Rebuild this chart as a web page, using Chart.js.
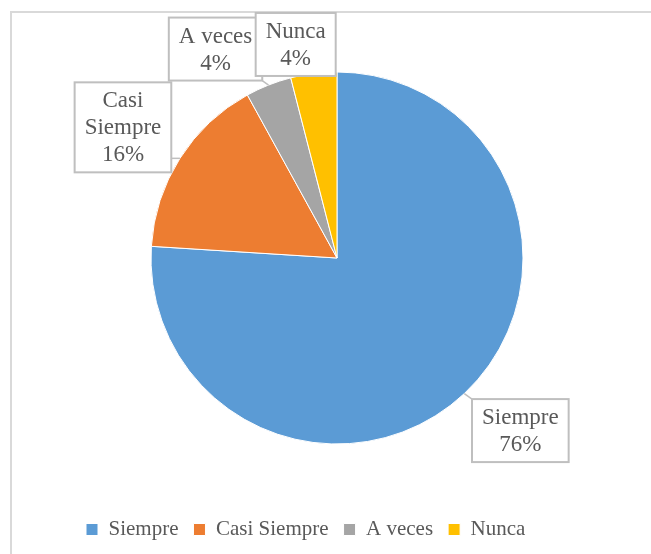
<!DOCTYPE html>
<html>
<head>
<meta charset="utf-8">
<script src="https://cdn.jsdelivr.net/npm/chart.js@4/dist/chart.umd.min.js"></script>
<style>
    html, body { margin: 0; padding: 0; background: #ffffff; }
    #chart-box { position: relative; width: 651px; height: 554px; }
</style>
</head>
<body>
<div id="chart-box">
    <canvas id="frequency-pie"></canvas>
</div>
<script>
// Chart data
const categories = ["Siempre", "Casi Siempre", "A veces", "Nunca"];
const percentages = [76, 16, 4, 4];

// Colours (Office palette)
const sliceColors = ["#5B9BD5", "#ED7D31", "#A5A5A5", "#FFC000"];
const textColor = "#595959";

// Where each data label box sits, relative to the slice edge point
const labelOffsets = [[56, 37], [-57, -31], [-53, -36], [-18, -29]];
const labelWrap = [false, true, false, false];

// Light grey frame around the whole chart
const frameBorder = {
    id: "frameBorder",
    beforeDraw(chart) {
        const ctx = chart.ctx;
        ctx.save();
        ctx.strokeStyle = "#D9D9D9";
        ctx.lineWidth = 2;
        ctx.strokeRect(11, 12, chart.width + 20, chart.height + 20);
        ctx.restore();
    }
};

// Boxed data labels with a leader line to the slice
const calloutLabels = {
    id: "calloutLabels",
    afterDatasetsDraw(chart) {
        const ctx = chart.ctx;
        const meta = chart.getDatasetMeta(0);
        const lineH = 27;
        ctx.save();
        ctx.font = "23px 'Liberation Serif', 'Times New Roman', serif";

        // work out the boxes first
        const boxes = meta.data.map((arc, i) => {
            const p = arc.getProps(["x", "y", "startAngle", "endAngle", "outerRadius"], true);
            const mid = (p.startAngle + p.endAngle) / 2;
            const ax = p.x + Math.cos(mid) * p.outerRadius;
            const ay = p.y + Math.sin(mid) * p.outerRadius;
            const words = labelWrap[i] ? categories[i].split(" ") : [categories[i]];
            const lines = words.concat([percentages[i] + "%"]);
            const w = Math.max(...lines.map(t => ctx.measureText(t).width)) + 20;
            const h = lines.length * lineH + 9;
            const cx = ax + labelOffsets[i][0];
            const cy = ay + labelOffsets[i][1];
            return { ax, ay, lines, x: cx - w / 2, y: cy - h / 2, w, h };
        });

        // leader lines
        ctx.strokeStyle = "#BFBFBF";
        ctx.lineWidth = 1.5;
        boxes.forEach(b => {
            const nx = Math.min(Math.max(b.ax, b.x), b.x + b.w);
            const ny = Math.min(Math.max(b.ay, b.y), b.y + b.h);
            if (nx === b.ax && ny === b.ay) return; // anchor inside the box
            ctx.beginPath();
            ctx.moveTo(b.ax, b.ay);
            ctx.lineTo(nx, ny);
            ctx.stroke();
        });

        // boxes and texts
        boxes.forEach(b => {
            ctx.fillStyle = "#FFFFFF";
            ctx.fillRect(b.x, b.y, b.w, b.h);
            ctx.strokeStyle = "#BFBFBF";
            ctx.lineWidth = 2;
            ctx.strokeRect(b.x, b.y, b.w, b.h);
            ctx.fillStyle = textColor;
            ctx.textAlign = "center";
            ctx.textBaseline = "middle";
            b.lines.forEach((t, k) => {
                ctx.fillText(t, b.x + b.w / 2, b.y + 4.5 + lineH / 2 + k * lineH + 1);
            });
        });
        ctx.restore();
    }
};

document.addEventListener("DOMContentLoaded", function() {
    new Chart("frequency-pie", {
        type: "pie",
        data: {
            labels: categories,
            datasets: [{
                data: percentages,
                backgroundColor: sliceColors,
                borderColor: "#FFFFFF",
                borderWidth: 1,
                radius: 186
            }]
        },
        options: {
            responsive: true,
            maintainAspectRatio: false,
            animation: false,
            layout: {
                padding: { top: 12, left: 71, right: 48, bottom: 4 }
            },
            plugins: {
                tooltip: { enabled: false },
                legend: {
                    position: "bottom",
                    align: "start",
                    labels: {
                        color: textColor,
                        boxWidth: 12,
                        boxHeight: 12,
                        padding: 15,
                        font: {
                            family: "'Liberation Serif', 'Times New Roman', serif",
                            size: 21
                        }
                    }
                }
            }
        },
        plugins: [frameBorder, calloutLabels]
    });
});
</script>
</body>
</html>
